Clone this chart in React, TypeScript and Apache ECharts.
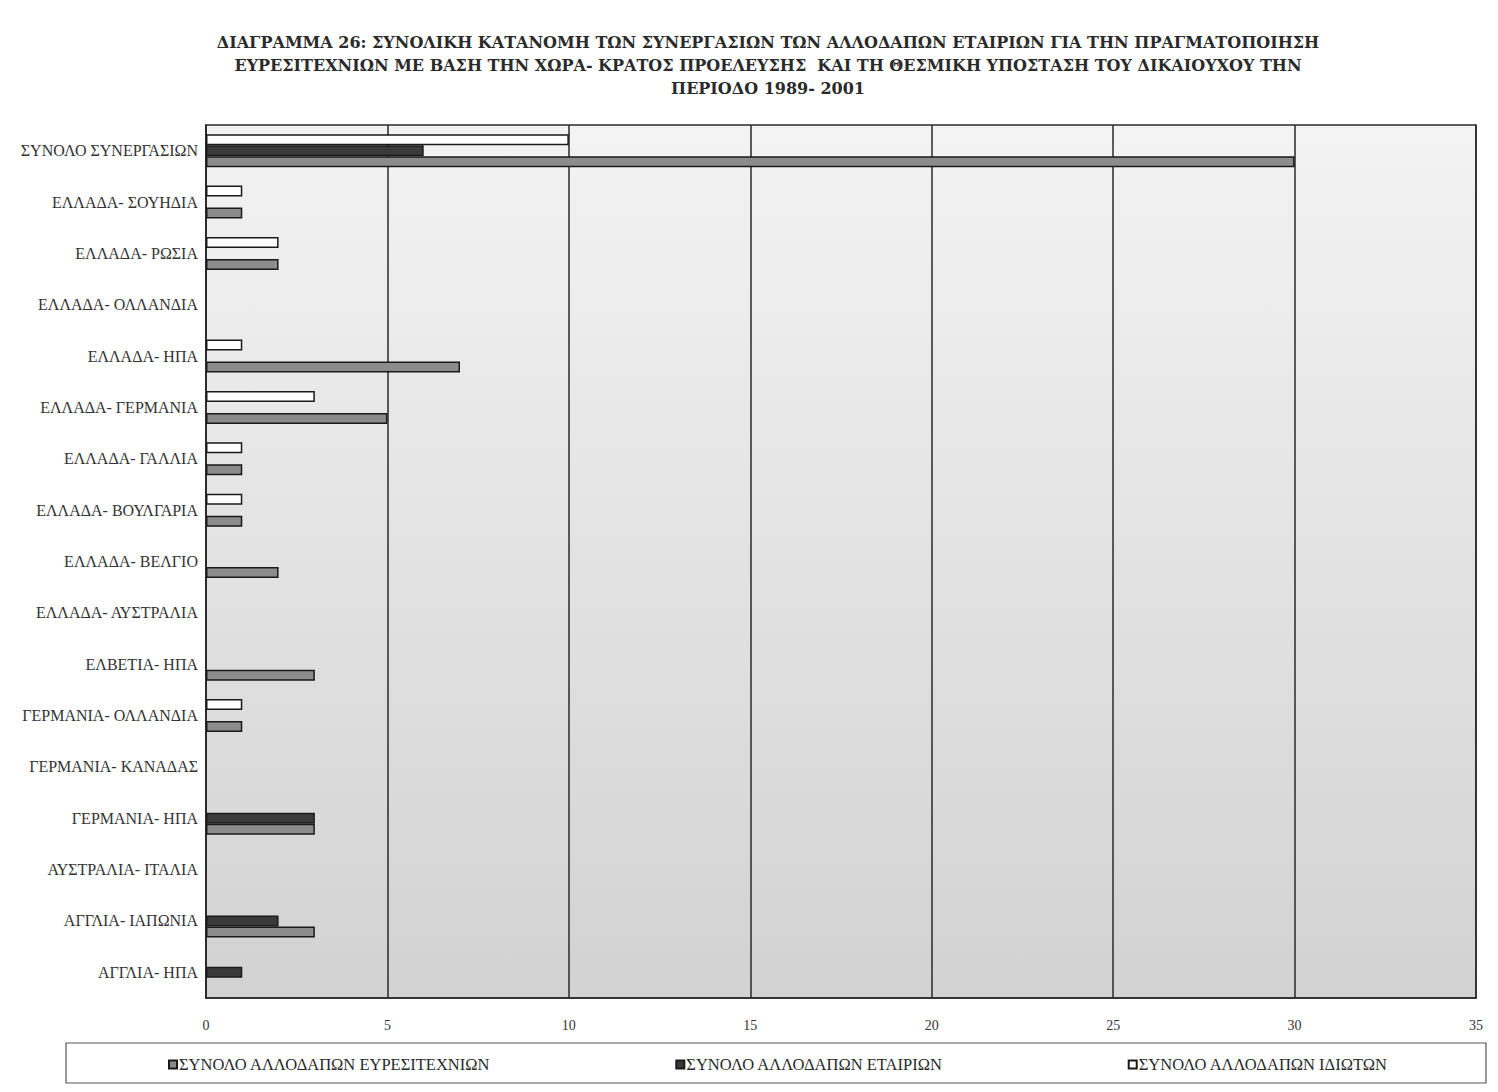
import React, { useEffect, useRef } from "react";
import * as echarts from "echarts";

const categories = [
  "ΣΥΝΟΛΟ ΣΥΝΕΡΓΑΣΙΩΝ",
  "ΕΛΛΑΔΑ- ΣΟΥΗΔΙΑ",
  "ΕΛΛΑΔΑ- ΡΩΣΙΑ",
  "ΕΛΛΑΔΑ- ΟΛΛΑΝΔΙΑ",
  "ΕΛΛΑΔΑ- ΗΠΑ",
  "ΕΛΛΑΔΑ- ΓΕΡΜΑΝΙΑ",
  "ΕΛΛΑΔΑ- ΓΑΛΛΙΑ",
  "ΕΛΛΑΔΑ- ΒΟΥΛΓΑΡΙΑ",
  "ΕΛΛΑΔΑ- ΒΕΛΓΙΟ",
  "ΕΛΛΑΔΑ- ΑΥΣΤΡΑΛΙΑ",
  "ΕΛΒΕΤΙΑ- ΗΠΑ",
  "ΓΕΡΜΑΝΙΑ- ΟΛΛΑΝΔΙΑ",
  "ΓΕΡΜΑΝΙΑ- ΚΑΝΑΔΑΣ",
  "ΓΕΡΜΑΝΙΑ- ΗΠΑ",
  "ΑΥΣΤΡΑΛΙΑ- ΙΤΑΛΙΑ",
  "ΑΓΓΛΙΑ- ΙΑΠΩΝΙΑ",
  "ΑΓΓΛΙΑ- ΗΠΑ",
];

const inventions = [30, 1, 2, 0, 7, 5, 1, 1, 2, 0, 3, 1, 0, 3, 0, 3, 0];
const companies = [6, 0, 0, 0, 0, 0, 0, 0, 0, 0, 0, 0, 0, 3, 0, 2, 1];
const individuals = [10, 1, 2, 0, 1, 3, 1, 1, 0, 0, 0, 1, 0, 0, 0, 0, 0];

const seriesNames = [
  "ΣΥΝΟΛΟ ΑΛΛΟΔΑΠΩΝ ΕΥΡΕΣΙΤΕΧΝΙΩΝ",
  "ΣΥΝΟΛΟ ΑΛΛΟΔΑΠΩΝ ΕΤΑΙΡΙΩΝ",
  "ΣΥΝΟΛΟ ΑΛΛΟΔΑΠΩΝ ΙΔΙΩΤΩΝ",
];

const xTicks = { min: 0, max: 35, interval: 5 };

const titleText =
  "ΔΙΑΓΡΑΜΜΑ 26: ΣΥΝΟΛΙΚΗ ΚΑΤΑΝΟΜΗ ΤΩΝ ΣΥΝΕΡΓΑΣΙΩΝ ΤΩΝ ΑΛΛΟΔΑΠΩΝ ΕΤΑΙΡΙΩΝ ΓΙΑ ΤΗΝ ΠΡΑΓΜΑΤΟΠΟΙΗΣΗ\n" +
  "ΕΥΡΕΣΙΤΕΧΝΙΩΝ ΜΕ ΒΑΣΗ ΤΗΝ ΧΩΡΑ- ΚΡΑΤΟΣ ΠΡΟΕΛΕΥΣΗΣ  ΚΑΙ ΤΗ ΘΕΣΜΙΚΗ ΥΠΟΣΤΑΣΗ ΤΟΥ ΔΙΚΑΙΟΥΧΟΥ ΤΗΝ\n" +
  "ΠΕΡΙΟΔΟ 1989- 2001";

const FONT = "'Liberation Serif', 'DejaVu Serif', serif";
const TITLE_FONT = "'DejaVu Serif', 'Liberation Serif', serif";

export default function App() {
  const ref = useRef<HTMLDivElement>(null);
  useEffect(() => {
    if (!ref.current) return;
    const chart = echarts.init(ref.current, null, { renderer: "svg" });
    const nz = (arr: number[]) => arr.map((v) => (v === 0 ? null : v));
    const mk = (name: string, data: number[], color: string) => ({
      name,
      type: "bar",
      data: nz(data),
      barWidth: 11,
      barGap: "0%",
      itemStyle: { color, borderColor: "#1a1a1a", borderWidth: 1.5 },
    });
    chart.setOption({
      animation: false,
      backgroundColor: "#ffffff",
      title: {
        text: titleText,
        left: 763,
        top: 26,
        textAlign: "center",
        textStyle: {
          fontFamily: TITLE_FONT,
          fontSize: 16,
          fontWeight: "bold",
          color: "#2a2a2a",
          lineHeight: 23,
        },
      },
      grid: {
        left: 206,
        right: 22,
        top: 125,
        bottom: 94,
        show: true,
        borderColor: "#2a2a2a",
        borderWidth: 1.5,
        backgroundColor: new echarts.graphic.LinearGradient(0, 0, 0, 1, [
          { offset: 0, color: "#f3f3f3" },
          { offset: 1, color: "#d2d2d2" },
        ]),
      },
      legend: {
        left: 163,
        top: 1051,
        itemGap: 185,
        itemWidth: 8,
        itemHeight: 8,
        icon: "rect",
        data: seriesNames,
        textStyle: { fontFamily: FONT, fontSize: 16.5, color: "#2a2a2a", padding: [0, 0, 0, -3] },
      },
      xAxis: {
        type: "value",
        min: xTicks.min,
        max: xTicks.max,
        interval: xTicks.interval,
        axisLine: { show: true, lineStyle: { color: "#2a2a2a", width: 1.5 } },
        axisTick: { show: false },
        axisLabel: { fontFamily: FONT, fontSize: 14, color: "#333", margin: 20 },
        splitLine: { show: true, lineStyle: { color: "#2a2a2a", width: 1.5 } },
      },
      yAxis: {
        type: "category",
        inverse: true,
        data: categories,
        axisLine: { show: true, lineStyle: { color: "#2a2a2a", width: 1.5 } },
        axisTick: { show: false },
        axisLabel: { fontFamily: FONT, fontSize: 16, color: "#333", margin: 8 },
      },
      graphic: [
        {
          type: "rect",
          shape: { x: 66, y: 1043, width: 1420, height: 40 },
          style: { fill: "none", stroke: "#555", lineWidth: 1.2 },
        },
      ],
      series: [
        mk(seriesNames[2], individuals, "#ffffff"),
        mk(seriesNames[1], companies, "#3a3a3a"),
        mk(seriesNames[0], inventions, "#8c8c8c"),
      ],
    });
    return () => chart.dispose();
  }, []);
  return (
    <div
      ref={ref}
      style={{ position: "absolute", left: 0, top: 0, width: 1498, height: 1092 }}
    />
  );
}
